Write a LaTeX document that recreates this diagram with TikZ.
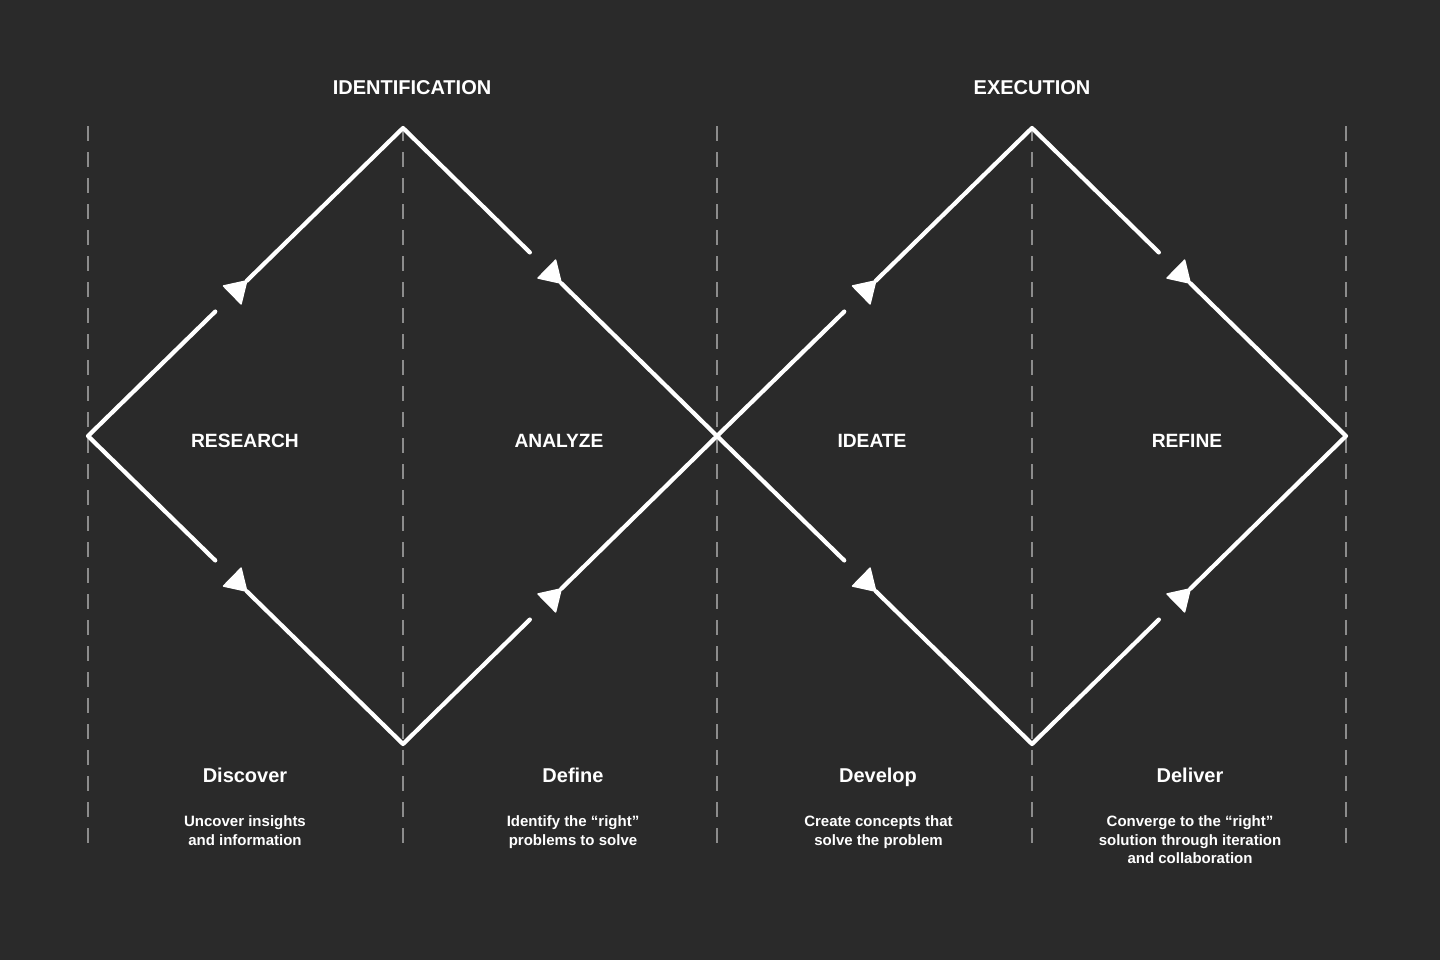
\documentclass[tikz,border=0pt]{standalone}
\usepackage{fontspec}
\setmainfont{Liberation Sans}
\usetikzlibrary{calc}
\definecolor{bg}{HTML}{2A2A2A}
\definecolor{guide}{HTML}{8C8C8C}
\newcommand\flowedge[3]{%
  \coordinate (#1s) at ($(#2)!0.404!(#3)$);
  \coordinate (#1b) at ($(#2)!0.458!(#3)$);
  \coordinate (#1a) at ($(#2)!0.504!(#3)$);
  \filldraw[tiptri] (#1a) -- ($(#1b)!6.3pt!90:(#3)$) -- ($(#1b)!6.3pt!-90:(#3)$) -- cycle;
}
\begin{document}
\begin{tikzpicture}[x=0.5pt,y=-0.5pt,
  flow/.style={draw=white,line width=2.1pt,line cap=round,line join=round},
  tiptri/.style={fill=white,draw=white,line width=0.7pt,line join=round},
  guideline/.style={draw=guide,line width=1pt,dash pattern=on 7.5pt off 5.5pt},
  phase/.style={text=white,font=\fontsize{9.6}{11}\selectfont\bfseries,inner sep=0pt},
  title/.style={text=white,font=\fontsize{10}{12}\selectfont\bfseries,inner sep=0pt},
  stage/.style={text=white,font=\fontsize{10}{12}\selectfont\bfseries,inner sep=0pt,anchor=base},
  desc/.style={text=white,font=\fontsize{7.5}{9.4}\selectfont\bfseries,inner sep=0pt,anchor=north,align=center}]
\fill[bg] (0,0) rectangle (1440,960);
\useasboundingbox (0,0) rectangle (1440,960);
% guides
\foreach \gx in {88,403,717,1032,1346}
  \draw[guideline] (\gx,126) -- (\gx,845);
% vertices
\coordinate (L1) at (88,436);
\coordinate (T1) at (403,128);
\coordinate (B1) at (403,744);
\coordinate (C) at (717,436);
\coordinate (T2) at (1032,128);
\coordinate (B2) at (1032,744);
\coordinate (R2) at (1346,436);
% edges with arrow tips
\flowedge{e1}{L1}{T1}
\flowedge{e2}{T1}{C}
\flowedge{e3}{L1}{B1}
\flowedge{e4}{B1}{C}
\flowedge{e5}{C}{T2}
\flowedge{e6}{T2}{R2}
\flowedge{e7}{C}{B2}
\flowedge{e8}{B2}{R2}
% lines
\draw[flow] (e1s) -- (L1) -- (e3s);
\draw[flow] (e1a) -- (T1) -- (e2s);
\draw[flow] (e3a) -- (B1) -- (e4s);
\draw[flow] (e2a) -- (C) -- (e7s);
\draw[flow] (e4a) -- (C) -- (e5s);
\draw[flow] (e5a) -- (T2) -- (e6s);
\draw[flow] (e7a) -- (B2) -- (e8s);
\draw[flow] (e6a) -- (R2) -- (e8a);
% texts
\node[title] (idn) at (412,87.5) {IDENTIFICATION};
\node[title] (exe) at (1032,87.5) {EXECUTION};
\node[phase] (res) at (245,441) {RESEARCH};
\node[phase] (ana) at (559,441) {ANALYZE};
\node[phase] (ide) at (872,441) {IDEATE};
\node[phase] (ref) at (1187,441) {REFINE};
\node[stage] (dis) at (245,782) {Discover};
\node[stage] (def) at (573,782) {Define};
\node[stage] (dev) at (878,782) {Develop};
\node[stage] (del) at (1190,782) {Deliver};
\node[desc] (dis2) at (245,815) {Uncover insights\\and information};
\node[desc] (def2) at (573,815) {Identify the “right”\\problems to solve};
\node[desc] (dev2) at (878.5,815) {Create concepts that\\solve the problem};
\node[desc] (del2) at (1190,815) {Converge to the “right”\\solution through iteration\\and collaboration};
\end{tikzpicture}
\end{document}
